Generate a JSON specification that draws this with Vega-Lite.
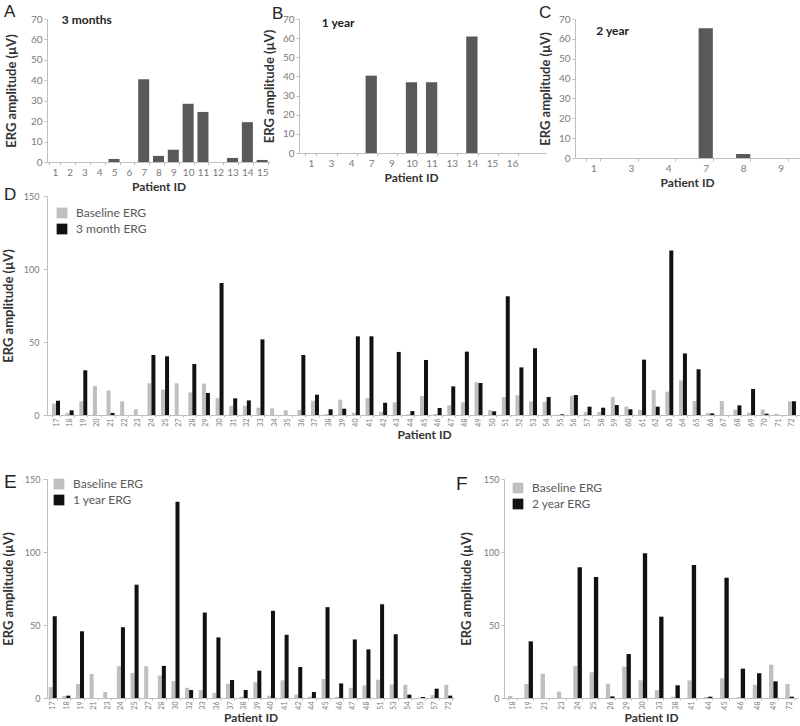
{
 "$schema": "https://vega.github.io/schema/vega-lite/v6.json",
 "padding": {"left": 2, "top": 2, "right": 0, "bottom": 0},
 "background": "white",
 "datasets": {
  "a": [{"id":"1","v":0},{"id":"2","v":0},{"id":"3","v":0},{"id":"4","v":0},{"id":"5","v":1.5},{"id":"6","v":0},{"id":"7","v":40.5},{"id":"8","v":3},{"id":"9","v":6},{"id":"10","v":28.5},{"id":"11","v":24.5},{"id":"12","v":0},{"id":"13","v":2},{"id":"14","v":19.5},{"id":"15","v":1}],
  "b": [{"id":"1","v":0},{"id":"3","v":0},{"id":"4","v":0},{"id":"7","v":40.4},{"id":"9","v":0},{"id":"10","v":37},{"id":"11","v":37},{"id":"13","v":0},{"id":"14","v":60.8},{"id":"15","v":0},{"id":"16","v":0}],
  "c": [{"id":"1","v":0},{"id":"3","v":0},{"id":"4","v":0},{"id":"7","v":65.3},{"id":"8","v":2},{"id":"9","v":0}],
  "d": [
   {"id":"17","s":"Baseline ERG","v":7.8},{"id":"17","s":"3 month ERG","v":9.8},
   {"id":"18","s":"Baseline ERG","v":1.4},{"id":"18","s":"3 month ERG","v":3.2},
   {"id":"19","s":"Baseline ERG","v":9.4},{"id":"19","s":"3 month ERG","v":30.6},
   {"id":"20","s":"Baseline ERG","v":19.9},{"id":"20","s":"3 month ERG","v":0},
   {"id":"21","s":"Baseline ERG","v":16.7},{"id":"21","s":"3 month ERG","v":1.4},
   {"id":"22","s":"Baseline ERG","v":9.4},{"id":"22","s":"3 month ERG","v":0},
   {"id":"23","s":"Baseline ERG","v":3.9},{"id":"23","s":"3 month ERG","v":0},
   {"id":"24","s":"Baseline ERG","v":21.7},{"id":"24","s":"3 month ERG","v":41.1},
   {"id":"25","s":"Baseline ERG","v":17.4},{"id":"25","s":"3 month ERG","v":40.2},
   {"id":"27","s":"Baseline ERG","v":21.7},{"id":"27","s":"3 month ERG","v":0},
   {"id":"28","s":"Baseline ERG","v":15.5},{"id":"28","s":"3 month ERG","v":34.9},
   {"id":"29","s":"Baseline ERG","v":21.5},{"id":"29","s":"3 month ERG","v":15.1},
   {"id":"30","s":"Baseline ERG","v":11.6},{"id":"30","s":"3 month ERG","v":90.4},
   {"id":"31","s":"Baseline ERG","v":6.2},{"id":"31","s":"3 month ERG","v":11.4},
   {"id":"32","s":"Baseline ERG","v":6.2},{"id":"32","s":"3 month ERG","v":10},
   {"id":"33","s":"Baseline ERG","v":5},{"id":"33","s":"3 month ERG","v":51.8},
   {"id":"34","s":"Baseline ERG","v":4.6},{"id":"34","s":"3 month ERG","v":0},
   {"id":"35","s":"Baseline ERG","v":3.2},{"id":"35","s":"3 month ERG","v":0},
   {"id":"36","s":"Baseline ERG","v":3.4},{"id":"36","s":"3 month ERG","v":41.1},
   {"id":"37","s":"Baseline ERG","v":9.8},{"id":"37","s":"3 month ERG","v":13.9},
   {"id":"38","s":"Baseline ERG","v":0.7},{"id":"38","s":"3 month ERG","v":3.9},
   {"id":"39","s":"Baseline ERG","v":10.5},{"id":"39","s":"3 month ERG","v":4.3},
   {"id":"40","s":"Baseline ERG","v":1.6},{"id":"40","s":"3 month ERG","v":53.9},
   {"id":"41","s":"Baseline ERG","v":11.6},{"id":"41","s":"3 month ERG","v":53.9},
   {"id":"42","s":"Baseline ERG","v":2.3},{"id":"42","s":"3 month ERG","v":8.4},
   {"id":"43","s":"Baseline ERG","v":8.7},{"id":"43","s":"3 month ERG","v":43.2},
   {"id":"44","s":"Baseline ERG","v":0.5},{"id":"44","s":"3 month ERG","v":2.7},
   {"id":"45","s":"Baseline ERG","v":13},{"id":"45","s":"3 month ERG","v":37.7},
   {"id":"46","s":"Baseline ERG","v":0.7},{"id":"46","s":"3 month ERG","v":4.8},
   {"id":"47","s":"Baseline ERG","v":6.6},{"id":"47","s":"3 month ERG","v":19.6},
   {"id":"48","s":"Baseline ERG","v":8.7},{"id":"48","s":"3 month ERG","v":43.4},
   {"id":"49","s":"Baseline ERG","v":22.4},{"id":"49","s":"3 month ERG","v":21.9},
   {"id":"50","s":"Baseline ERG","v":3.4},{"id":"50","s":"3 month ERG","v":2.5},
   {"id":"51","s":"Baseline ERG","v":12.3},{"id":"51","s":"3 month ERG","v":81.3},
   {"id":"52","s":"Baseline ERG","v":13.5},{"id":"52","s":"3 month ERG","v":32.6},
   {"id":"53","s":"Baseline ERG","v":9.4},{"id":"53","s":"3 month ERG","v":45.7},
   {"id":"54","s":"Baseline ERG","v":9.1},{"id":"54","s":"3 month ERG","v":12.3},
   {"id":"55","s":"Baseline ERG","v":0.2},{"id":"55","s":"3 month ERG","v":0.5},
   {"id":"56","s":"Baseline ERG","v":13.2},{"id":"56","s":"3 month ERG","v":13.7},
   {"id":"57","s":"Baseline ERG","v":2},{"id":"57","s":"3 month ERG","v":5.7},
   {"id":"58","s":"Baseline ERG","v":2},{"id":"58","s":"3 month ERG","v":5},
   {"id":"59","s":"Baseline ERG","v":12.3},{"id":"59","s":"3 month ERG","v":6.8},
   {"id":"60","s":"Baseline ERG","v":5.7},{"id":"60","s":"3 month ERG","v":3.9},
   {"id":"61","s":"Baseline ERG","v":3.4},{"id":"61","s":"3 month ERG","v":37.9},
   {"id":"62","s":"Baseline ERG","v":17.1},{"id":"62","s":"3 month ERG","v":5.7},
   {"id":"63","s":"Baseline ERG","v":16},{"id":"63","s":"3 month ERG","v":112.6},
   {"id":"64","s":"Baseline ERG","v":23.7},{"id":"64","s":"3 month ERG","v":42.2},
   {"id":"65","s":"Baseline ERG","v":9.6},{"id":"65","s":"3 month ERG","v":31.3},
   {"id":"66","s":"Baseline ERG","v":1.4},{"id":"66","s":"3 month ERG","v":1.1},
   {"id":"67","s":"Baseline ERG","v":9.6},{"id":"67","s":"3 month ERG","v":0},
   {"id":"68","s":"Baseline ERG","v":3.7},{"id":"68","s":"3 month ERG","v":6.6},
   {"id":"69","s":"Baseline ERG","v":1.6},{"id":"69","s":"3 month ERG","v":17.8},
   {"id":"70","s":"Baseline ERG","v":3.7},{"id":"70","s":"3 month ERG","v":0.9},
   {"id":"71","s":"Baseline ERG","v":0.9},{"id":"71","s":"3 month ERG","v":0},
   {"id":"72","s":"Baseline ERG","v":9.4},{"id":"72","s":"3 month ERG","v":9.4}
  ],
  "e": [
   {"id":"17","s":"Baseline ERG","v":7.4},{"id":"17","s":"1 year ERG","v":56},
   {"id":"18","s":"Baseline ERG","v":1.4},{"id":"18","s":"1 year ERG","v":1.6},
   {"id":"19","s":"Baseline ERG","v":9.6},{"id":"19","s":"1 year ERG","v":45.7},
   {"id":"21","s":"Baseline ERG","v":16.5},{"id":"21","s":"1 year ERG","v":0},
   {"id":"23","s":"Baseline ERG","v":4.1},{"id":"23","s":"1 year ERG","v":0},
   {"id":"24","s":"Baseline ERG","v":21.8},{"id":"24","s":"1 year ERG","v":48.5},
   {"id":"25","s":"Baseline ERG","v":17.2},{"id":"25","s":"1 year ERG","v":77.6},
   {"id":"27","s":"Baseline ERG","v":21.8},{"id":"27","s":"1 year ERG","v":0},
   {"id":"28","s":"Baseline ERG","v":15.4},{"id":"28","s":"1 year ERG","v":22},
   {"id":"30","s":"Baseline ERG","v":11.6},{"id":"30","s":"1 year ERG","v":134.4},
   {"id":"32","s":"Baseline ERG","v":7},{"id":"32","s":"1 year ERG","v":5.5},
   {"id":"33","s":"Baseline ERG","v":5.5},{"id":"33","s":"1 year ERG","v":58.5},
   {"id":"36","s":"Baseline ERG","v":3.4},{"id":"36","s":"1 year ERG","v":41.5},
   {"id":"37","s":"Baseline ERG","v":9.8},{"id":"37","s":"1 year ERG","v":12.3},
   {"id":"38","s":"Baseline ERG","v":0.9},{"id":"38","s":"1 year ERG","v":5.5},
   {"id":"39","s":"Baseline ERG","v":10.9},{"id":"39","s":"1 year ERG","v":18.7},
   {"id":"40","s":"Baseline ERG","v":1.6},{"id":"40","s":"1 year ERG","v":59.7},
   {"id":"41","s":"Baseline ERG","v":12.1},{"id":"41","s":"1 year ERG","v":43.3},
   {"id":"42","s":"Baseline ERG","v":2.3},{"id":"42","s":"1 year ERG","v":21.2},
   {"id":"44","s":"Baseline ERG","v":0.9},{"id":"44","s":"1 year ERG","v":4.1},
   {"id":"45","s":"Baseline ERG","v":13},{"id":"45","s":"1 year ERG","v":62.2},
   {"id":"46","s":"Baseline ERG","v":0.7},{"id":"46","s":"1 year ERG","v":10},
   {"id":"47","s":"Baseline ERG","v":7},{"id":"47","s":"1 year ERG","v":40.1},
   {"id":"48","s":"Baseline ERG","v":8.7},{"id":"48","s":"1 year ERG","v":33.3},
   {"id":"51","s":"Baseline ERG","v":12.5},{"id":"51","s":"1 year ERG","v":64.2},
   {"id":"53","s":"Baseline ERG","v":9.3},{"id":"53","s":"1 year ERG","v":43.7},
   {"id":"54","s":"Baseline ERG","v":9.1},{"id":"54","s":"1 year ERG","v":2.3},
   {"id":"55","s":"Baseline ERG","v":0.2},{"id":"55","s":"1 year ERG","v":0.7},
   {"id":"57","s":"Baseline ERG","v":2},{"id":"57","s":"1 year ERG","v":6.4},
   {"id":"72","s":"Baseline ERG","v":9.1},{"id":"72","s":"1 year ERG","v":1.6}
  ],
  "f": [
   {"id":"18","s":"Baseline ERG","v":1.4},{"id":"18","s":"2 year ERG","v":0},
   {"id":"19","s":"Baseline ERG","v":9.6},{"id":"19","s":"2 year ERG","v":38.8},
   {"id":"21","s":"Baseline ERG","v":16.7},{"id":"21","s":"2 year ERG","v":0},
   {"id":"23","s":"Baseline ERG","v":4.3},{"id":"23","s":"2 year ERG","v":0},
   {"id":"24","s":"Baseline ERG","v":21.9},{"id":"24","s":"2 year ERG","v":89.5},
   {"id":"25","s":"Baseline ERG","v":17.6},{"id":"25","s":"2 year ERG","v":82.9},
   {"id":"26","s":"Baseline ERG","v":9.8},{"id":"26","s":"2 year ERG","v":1.1},
   {"id":"29","s":"Baseline ERG","v":21.5},{"id":"29","s":"2 year ERG","v":30.1},
   {"id":"30","s":"Baseline ERG","v":12.1},{"id":"30","s":"2 year ERG","v":99.1},
   {"id":"33","s":"Baseline ERG","v":5.5},{"id":"33","s":"2 year ERG","v":55.7},
   {"id":"38","s":"Baseline ERG","v":0.9},{"id":"38","s":"2 year ERG","v":8.7},
   {"id":"41","s":"Baseline ERG","v":12.1},{"id":"41","s":"2 year ERG","v":91.1},
   {"id":"44","s":"Baseline ERG","v":0.7},{"id":"44","s":"2 year ERG","v":0.9},
   {"id":"45","s":"Baseline ERG","v":13.5},{"id":"45","s":"2 year ERG","v":82.4},
   {"id":"46","s":"Baseline ERG","v":0.5},{"id":"46","s":"2 year ERG","v":20.1},
   {"id":"48","s":"Baseline ERG","v":9.1},{"id":"48","s":"2 year ERG","v":16.9},
   {"id":"49","s":"Baseline ERG","v":22.8},{"id":"49","s":"2 year ERG","v":11.4},
   {"id":"72","s":"Baseline ERG","v":9.6},{"id":"72","s":"2 year ERG","v":0.9}
  ]
 },
 "config": {
  "font": "Lato",
  "view": {"stroke": null},
  "axis": {"domainColor": "#bfbfbf", "tickColor": "#bfbfbf", "tickSize": 3, "labelColor": "#7a7a7a", "titleColor": "#333333", "titleFontWeight": "bold", "titleFontSize": 13, "grid": false, "labelFont": "Lato", "titleFont": "Lato"},
  "axisX": {"tickBand": "extent"},
  "legend": {"symbolType": "square", "symbolSize": 115, "symbolStrokeWidth": 0, "labelFontSize": 12, "labelColor": "#595959", "labelOffset": 8, "rowPadding": 4, "padding": 0, "labelFont": "Lato"},
  "title": {"font": "Liberation Sans", "fontSize": 17, "fontWeight": "normal", "color": "#222222", "anchor": "start", "frame": "group", "baseline": "alphabetic"}
 },
 "spacing": 32,
 "resolve": {"scale": {"x": "independent", "y": "independent", "color": "independent", "xOffset": "independent"}, "legend": {"color": "independent"}},
 "vconcat": [
  {
   "spacing": -6,
   "resolve": {"scale": {"x": "independent", "y": "independent", "color": "independent", "xOffset": "independent"}, "legend": {"color": "independent"}},
   "vconcat": [
    {
     "bounds": "flush",
     "spacing": 29,
     "resolve": {"scale": {"x": "independent", "y": "independent"}},
     "hconcat": [
      {
       "width": 223, "height": 143,
       "title": {"text": "A", "dx": -43, "offset": -7},
       "layer": [
        {"data": {"name": "a"}, "mark": {"type": "bar", "color": "#595959"},
         "encoding": {
          "x": {"field": "id", "type": "nominal", "scale": {"domain": ["1","2","3","4","5","6","7","8","9","10","11","12","13","14","15"], "paddingInner": 0.256, "paddingOuter": 0.156}, "axis": {"title": "Patient ID", "labelAngle": 0, "labelFontSize": 10, "labelPadding": 2, "titlePadding": 4, "titleFontSize": 12}},
          "y": {"field": "v", "type": "quantitative", "scale": {"domain": [0, 70], "nice": false}, "axis": {"values": [0,10,20,30,40,50,60,70], "labelOverlap": false, "title": "ERG amplitude (μV)", "labelFontSize": 10, "labelPadding": 2, "titlePadding": 12}}
         }},
        {"data": {"values": [{"t": "3 months"}]}, "mark": {"type": "text", "align": "left", "baseline": "middle", "dx": 7, "fontWeight": "bold", "fontSize": 12, "color": "#222222", "font": "Lato"},
         "encoding": {
          "x": {"datum": "1", "axis": {"title": "Patient ID", "labelAngle": 0, "labelFontSize": 10, "labelPadding": 2, "titlePadding": 4, "titleFontSize": 12}},
          "y": {"datum": 69.6, "axis": {"values": [0,10,20,30,40,50,60,70], "labelOverlap": false, "title": "ERG amplitude (μV)", "labelFontSize": 10, "labelPadding": 2, "titlePadding": 12}},
          "text": {"field": "t"}}}
       ]
      },
      {
       "width": 247, "height": 134,
       "title": {"text": "B", "dx": -27, "offset": -9},
       "layer": [
        {"data": {"name": "b"}, "mark": {"type": "bar", "color": "#595959"},
         "encoding": {
          "x": {"field": "id", "type": "nominal", "scale": {"domain": ["1","3","4","7","9","10","11","13","14","15","16"], "paddingInner": 0.44, "paddingOuter": 0.855, "align": 0.18}, "axis": {"title": "Patient ID", "labelAngle": 0, "labelFontSize": 10, "labelPadding": 2, "titlePadding": 4, "titleFontSize": 12, "titleX": 112}},
          "y": {"field": "v", "type": "quantitative", "scale": {"domain": [0, 70], "nice": false}, "axis": {"values": [0,10,20,30,40,50,60,70], "labelOverlap": false, "title": "ERG amplitude (μV)", "labelFontSize": 10, "labelPadding": 2, "titlePadding": 6}}
         }},
        {"data": {"values": [{"t": "1 year"}]}, "mark": {"type": "text", "align": "left", "baseline": "middle", "dx": 11, "fontWeight": "bold", "fontSize": 12, "color": "#222222", "font": "Lato"},
         "encoding": {
          "x": {"datum": "1", "axis": {"title": "Patient ID", "labelAngle": 0, "labelFontSize": 10, "labelPadding": 2, "titlePadding": 4, "titleFontSize": 12, "titleX": 112}},
          "y": {"datum": 67.8, "axis": {"values": [0,10,20,30,40,50,60,70], "labelOverlap": false, "title": "ERG amplitude (μV)", "labelFontSize": 10, "labelPadding": 2, "titlePadding": 6}},
          "text": {"field": "t"}}}
       ]
      },
      {
       "width": 224, "height": 139,
       "title": {"text": "C", "dx": -36, "offset": -8},
       "layer": [
        {"data": {"name": "c"}, "mark": {"type": "bar", "color": "#595959"},
         "encoding": {
          "x": {"field": "id", "type": "nominal", "scale": {"domain": ["1","3","4","7","8","9"], "paddingInner": 0.62, "paddingOuter": 0.3}, "axis": {"title": "Patient ID", "labelAngle": 0, "labelFontSize": 10, "labelPadding": 2, "titlePadding": 4, "titleFontSize": 12}},
          "y": {"field": "v", "type": "quantitative", "scale": {"domain": [0, 70], "nice": false}, "axis": {"values": [0,10,20,30,40,50,60,70], "labelOverlap": false, "title": "ERG amplitude (μV)", "labelFontSize": 10, "labelPadding": 2, "titlePadding": 6}}
         }},
        {"data": {"values": [{"t": "2 year"}]}, "mark": {"type": "text", "align": "left", "baseline": "middle", "dx": 3, "fontWeight": "bold", "fontSize": 12, "color": "#222222", "font": "Lato"},
         "encoding": {
          "x": {"datum": "1", "axis": {"title": "Patient ID", "labelAngle": 0, "labelFontSize": 10, "labelPadding": 2, "titlePadding": 4, "titleFontSize": 12}},
          "y": {"datum": 64.1, "axis": {"values": [0,10,20,30,40,50,60,70], "labelOverlap": false, "title": "ERG amplitude (μV)", "labelFontSize": 10, "labelPadding": 2, "titlePadding": 6}},
          "text": {"field": "t"}}}
       ]
      }
     ]
    },
    {
     "width": 754, "height": 219,
     "title": {"text": "D", "dx": -43, "offset": -12},
     "data": {"name": "d"},
     "mark": {"type": "bar"},
     "encoding": {
      "x": {"field": "id", "type": "nominal", "sort": null, "scale": {"paddingInner": 0.415, "paddingOuter": 0.37}, "axis": {"title": "Patient ID", "labelAngle": -90, "labelFontSize": 7, "tickSize": 2, "labelPadding": 1, "titlePadding": 3, "titleFontSize": 12}},
      "xOffset": {"field": "s", "type": "nominal", "sort": null, "scale": {"domain": ["Baseline ERG", "3 month ERG"]}},
      "y": {"field": "v", "type": "quantitative", "scale": {"domain": [0, 150], "nice": false}, "axis": {"values": [0, 50, 100, 150], "labelOverlap": false, "title": "ERG amplitude (μV)", "labelFontSize": 9, "tickSize": 4, "labelPadding": 4, "titlePadding": 8}},
      "color": {"field": "s", "type": "nominal", "scale": {"domain": ["Baseline ERG", "3 month ERG"], "range": ["#bfbfbf", "#111111"]}, "legend": {"title": null, "orient": "none", "legendX": 9, "legendY": 11}}
     }
    }
   ]
  },
  {
   "bounds": "flush",
   "spacing": 50,
   "resolve": {"scale": {"x": "independent", "y": "independent", "color": "independent", "xOffset": "independent"}, "legend": {"color": "independent"}},
   "hconcat": [
    {
     "width": 407, "height": 219,
     "title": {"text": "E", "dx": -43, "offset": -17, "fontSize": 19},
     "data": {"name": "e"},
     "mark": {"type": "bar"},
     "encoding": {
      "x": {"field": "id", "type": "nominal", "sort": null, "scale": {"paddingInner": 0.41, "paddingOuter": 0.125}, "axis": {"title": "Patient ID", "labelAngle": -90, "labelFontSize": 7, "tickSize": 2, "labelPadding": 1, "titlePadding": 3, "titleFontSize": 12}},
      "xOffset": {"field": "s", "type": "nominal", "sort": null, "scale": {"domain": ["Baseline ERG", "1 year ERG"]}},
      "y": {"field": "v", "type": "quantitative", "scale": {"domain": [0, 150], "nice": false}, "axis": {"values": [0, 50, 100, 150], "labelOverlap": false, "title": "ERG amplitude (μV)", "labelFontSize": 9, "tickSize": 4, "labelPadding": 3, "titlePadding": 9}},
      "color": {"field": "s", "type": "nominal", "scale": {"domain": ["Baseline ERG", "1 year ERG"], "range": ["#bfbfbf", "#111111"]}, "legend": {"title": null, "orient": "none", "legendX": 6, "legendY": -1}}
     }
    },
    {
     "width": 294, "height": 219,
     "title": {"text": "F", "dx": -48, "offset": -19, "fontSize": 19},
     "data": {"name": "f"},
     "mark": {"type": "bar"},
     "encoding": {
      "x": {"field": "id", "type": "nominal", "sort": null, "scale": {"paddingInner": 0.47, "paddingOuter": 0.245}, "axis": {"title": "Patient ID", "labelAngle": -90, "labelFontSize": 7, "tickSize": 2, "labelPadding": 1, "titlePadding": 3, "titleFontSize": 12}},
      "xOffset": {"field": "s", "type": "nominal", "sort": null, "scale": {"domain": ["Baseline ERG", "2 year ERG"]}},
      "y": {"field": "v", "type": "quantitative", "scale": {"domain": [0, 150], "nice": false}, "axis": {"values": [0, 50, 100, 150], "labelOverlap": false, "title": "ERG amplitude (μV)", "labelFontSize": 9, "tickSize": 3, "labelPadding": 2, "titlePadding": 10}},
      "color": {"field": "s", "type": "nominal", "scale": {"domain": ["Baseline ERG", "2 year ERG"], "range": ["#bfbfbf", "#111111"]}, "legend": {"title": null, "orient": "none", "legendX": 8, "legendY": 3}}
     }
    }
   ]
  }
 ]
}
